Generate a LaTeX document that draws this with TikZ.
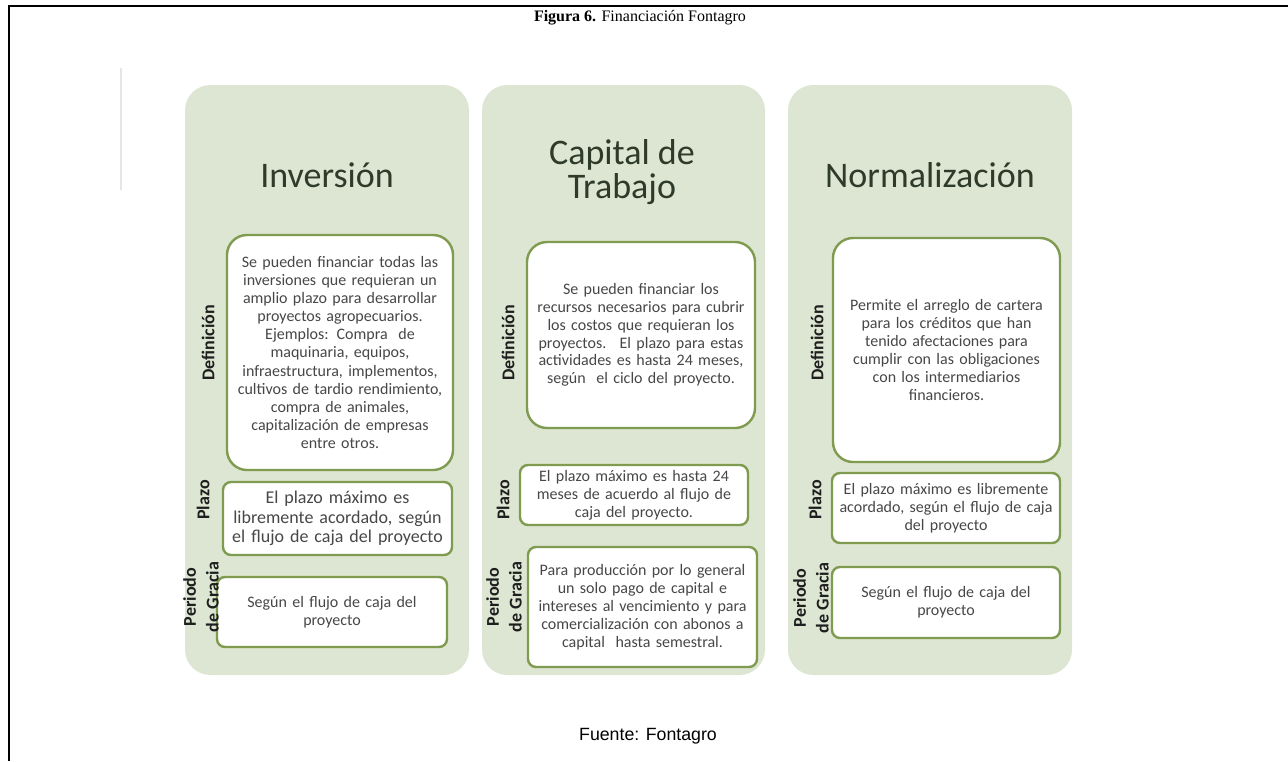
\documentclass[tikz,border=0pt]{standalone}
\usepackage{fontspec}
\setmainfont{Liberation Serif}
\newfontfamily\carlito{Carlito}
\newfontfamily\arialf{Liberation Sans}
\definecolor{panelfill}{HTML}{DDE6D2}
\definecolor{boxgreen}{HTML}{7E9B4F}
\definecolor{headtext}{HTML}{2E3A2A}
\definecolor{bodytext}{HTML}{474747}
\definecolor{labeltext}{HTML}{1E1E1E}
\definecolor{faintline}{HTML}{E6E6E6}
\begin{document}
\begin{tikzpicture}[x=0.75pt,y=-0.75pt,
  panelbox/.style={fill=panelfill, draw=none, rounded corners=19pt, inner sep=0pt},
  boxsize/.style 2 args={minimum width=#1*0.75pt, minimum height=#2*0.75pt, text width=#1*0.75pt-8pt},
  defbox/.style={draw=boxgreen, fill=white, line width=1.8pt, rounded corners=15pt,
     align=center, inner sep=0pt, text=bodytext,
     font=\carlito\fontsize{12}{13.4}\selectfont},
  smallbox/.style={defbox, rounded corners=6pt},
  header/.style={font=\carlito\fontsize{27}{26}\selectfont, text=headtext, align=center},
  sidelabel/.style={rotate=90, font=\carlito\bfseries\fontsize{13.5}{17}\selectfont, text=labeltext, align=center, inner sep=0pt},
  frameline/.style={line width=1.5pt, black}
]
\useasboundingbox (0,0) rectangle (1288,761);
% frame
\coordinate (ftl) at (9,6);
\coordinate (ftr) at (1288,6);
\coordinate (fbl) at (9,761);
\draw[frameline] (ftr) -- (ftl) -- (fbl);
\coordinate (fa) at (121,68);
\coordinate (fb) at (121,190);
\draw[faintline, line width=2pt] (fa) -- (fb);

% title and source
\node[font=\fontsize{12}{14}\selectfont] (title) at (640,18) {\textbf{Figura 6.} Financiación Fontagro};
\node[font=\arialf\fontsize{13.3}{16}\selectfont] (source) at (648,736) {Fuente: Fontagro};

% panels
\fill[panelfill, rounded corners=19pt] (185,85) rectangle (469,675);
\fill[panelfill, rounded corners=19pt] (482,85) rectangle (765,675);
\fill[panelfill, rounded corners=19pt] (788,85) rectangle (1072,675);

% headers
\node[header] (h1) at (327,175) {Inversión};
\node[header] (h2) at (622,172) {Capital de\\Trabajo};
\node[header] (h3) at (930,175) {Normalización};

% column 1
\node[defbox, boxsize={226}{235}, font=\carlito\fontsize{12}{13.6}\selectfont] (d1) at (340,352.5)
 {Se pueden financiar todas las\\inversiones que requieran un\\amplio plazo para desarrollar\\proyectos agropecuarios.\\Ejemplos: Compra~ de\\maquinaria, equipos,\\infraestructura, implementos,\\cultivos de tardio rendimiento,\\compra de animales,\\capitalización de empresas\\entre otros.};
\node[smallbox, boxsize={229}{73}, font=\carlito\fontsize{13.5}{14.5}\selectfont] (p1) at (337.5,518.5)
 {El plazo máximo es\\libremente acordado, según\\el flujo de caja del proyecto};
\node[smallbox, boxsize={230}{70}] (g1) at (332,612)
 {Según el flujo de caja del\\proyecto};
\node[sidelabel] (ld1) at (208,343) {Definición};
\node[sidelabel] (lp1) at (203,500) {Plazo};
\node[sidelabel] (lg1) at (201,597) {Periodo\\de Gracia};

% column 2
\node[defbox, boxsize={228}{186}] (d2) at (641,335)
 {Se pueden financiar los\\recursos necesarios para cubrir\\los costos que requieran los\\proyectos.~ El plazo para estas\\actividades es hasta 24 meses,\\según~ el ciclo del proyecto.};
\node[smallbox, boxsize={228}{60}] (p2) at (634,495)
 {El plazo máximo es hasta 24\\meses de acuerdo al flujo de\\caja del proyecto.};
\node[smallbox, boxsize={229}{120}] (g2) at (642.5,607)
 {Para producción por lo general\\un solo pago de capital e\\intereses al vencimiento y para\\comercialización con abonos a\\capital~ hasta semestral.};
\node[sidelabel] (ld2) at (508,343) {Definición};
\node[sidelabel] (lp2) at (503,500) {Plazo};
\node[sidelabel] (lg2) at (504,597) {Periodo\\de Gracia};

% column 3
\node[defbox, boxsize={227}{224}] (d3) at (946.5,350)
 {Permite el arreglo de cartera\\para los créditos que han\\tenido afectaciones para\\cumplir con las obligaciones\\con los intermediarios\\financieros.};
\node[smallbox, boxsize={228}{70}] (p3) at (946,508)
 {El plazo máximo es libremente\\acordado, según el flujo de caja\\del proyecto};
\node[smallbox, boxsize={228}{71}] (g3) at (946,602.5)
 {Según el flujo de caja del\\proyecto};
\node[sidelabel] (ld3) at (817,343) {Definición};
\node[sidelabel] (lp3) at (815,500) {Plazo};
\node[sidelabel] (lg3) at (811,598) {Periodo\\de Gracia};
\end{tikzpicture}
\end{document}
